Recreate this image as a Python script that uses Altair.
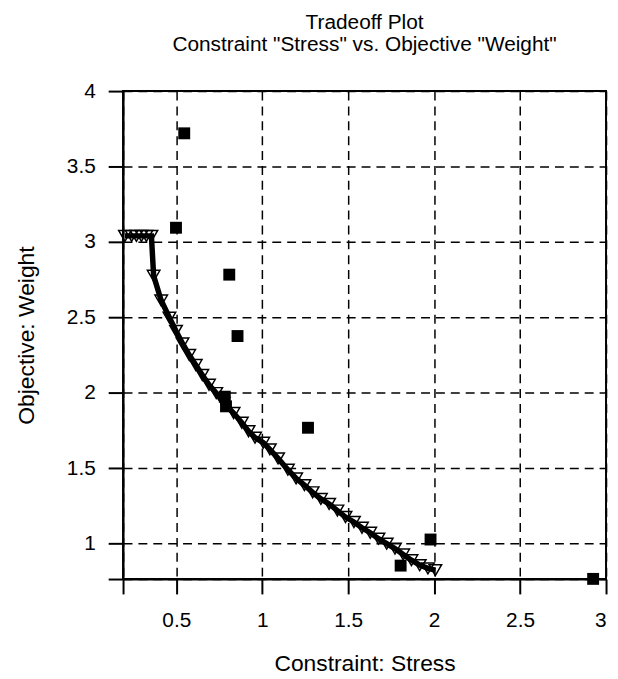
import altair as alt
import pandas as pd

# Pareto front (open down-triangles joined by thick line)
front_x = [0.201, 0.240, 0.268, 0.297, 0.326, 0.355,
           0.368, 0.412, 0.460, 0.498, 0.536, 0.575, 0.613, 0.651, 0.690,
           0.732, 0.776, 0.833, 0.881, 0.920, 0.958, 1.006, 1.044, 1.092,
           1.149, 1.197, 1.245, 1.293, 1.341, 1.389, 1.437, 1.484, 1.533,
           1.580, 1.628, 1.676, 1.724, 1.772, 1.820, 1.868, 1.916, 1.964, 2.007]
front_y = [3.04, 3.04, 3.04, 3.04, 3.04, 3.04,
           2.776, 2.612, 2.498, 2.410, 2.327, 2.250, 2.184, 2.118, 2.053,
           1.998, 1.932, 1.866, 1.801, 1.745, 1.702, 1.669, 1.625, 1.565,
           1.490, 1.432, 1.388, 1.340, 1.296, 1.263, 1.219, 1.176, 1.143,
           1.105, 1.072, 1.033, 1.000, 0.967, 0.928, 0.890, 0.857, 0.836, 0.824]

# Other designs (filled squares)
pts_x = [0.546, 0.498, 0.808, 0.856, 0.782, 0.789, 1.266, 1.979, 1.805, 2.925]
pts_y = [3.72, 3.094, 2.783, 2.376, 1.974, 1.910, 1.768, 1.027, 0.854, 0.766]

x_ticks = [0.19, 0.5, 1, 1.5, 2, 2.5, 3]
y_ticks = [0.765, 1, 1.5, 2, 2.5, 3, 3.5, 4]

front = pd.DataFrame({"x": front_x, "y": front_y, "i": list(range(len(front_x)))})
pts = pd.DataFrame({"x": pts_x, "y": pts_y})

FONT = "Liberation Sans"

xs = alt.Scale(domain=[0.19, 3.0], nice=False, zero=False)
ys = alt.Scale(domain=[0.765, 4.0], nice=False, zero=False)

xenc = alt.X("x:Q", scale=xs, title="Constraint: Stress",
             axis=alt.Axis(values=x_ticks, format="~g",
                           labelExpr="datum.value < 0.3 ? '' : datum.label",
                           labelPadding=16, titlePadding=22))
yenc = alt.Y("y:Q", scale=ys, title="Objective: Weight",
             axis=alt.Axis(values=y_ticks, format="~g",
                           labelExpr="datum.value < 0.9 ? '' : datum.label",
                           labelPadding=13, titlePadding=28))

line = alt.Chart(front).mark_line(color="black", strokeWidth=5.5).encode(
    x=xenc, y=yenc, order="i:Q")

tri = alt.Chart(front).mark_point(shape="triangle-down", size=160, filled=False,
                                  color="black", strokeWidth=1.5, opacity=1).encode(
    x="x:Q", y="y:Q")

sq = alt.Chart(pts).mark_square(size=144, color="black", opacity=1).encode(
    x="x:Q", y="y:Q")

chart = alt.layer(line, tri, sq).properties(
    width=487, height=492,
    title=alt.TitleParams(
        text=["Tradeoff Plot", 'Constraint "Stress" vs. Objective "Weight"'],
        font=FONT, fontSize=21, fontWeight="normal", color="black",
        anchor="middle", frame="group", lineHeight=23, offset=25),
    autosize=alt.AutoSizeParams(type="none"),
    padding={"left": 116, "top": 81, "right": 4, "bottom": 96},
).configure_view(
    stroke="black", strokeWidth=2
).configure_axis(
    labelFont=FONT, labelFontSize=21, labelColor="black",
    titleFont=FONT, titleFontSize=23, titleFontWeight="normal", titleColor="black",
    domainColor="black", domainWidth=2,
    tickColor="black", tickWidth=2, tickSize=15,
    grid=True, gridColor="black", gridDash=[9, 6], gridWidth=1.5, gridOpacity=1,
)

chart.save("out.html", embed_options={"renderer": "svg", "actions": False})
